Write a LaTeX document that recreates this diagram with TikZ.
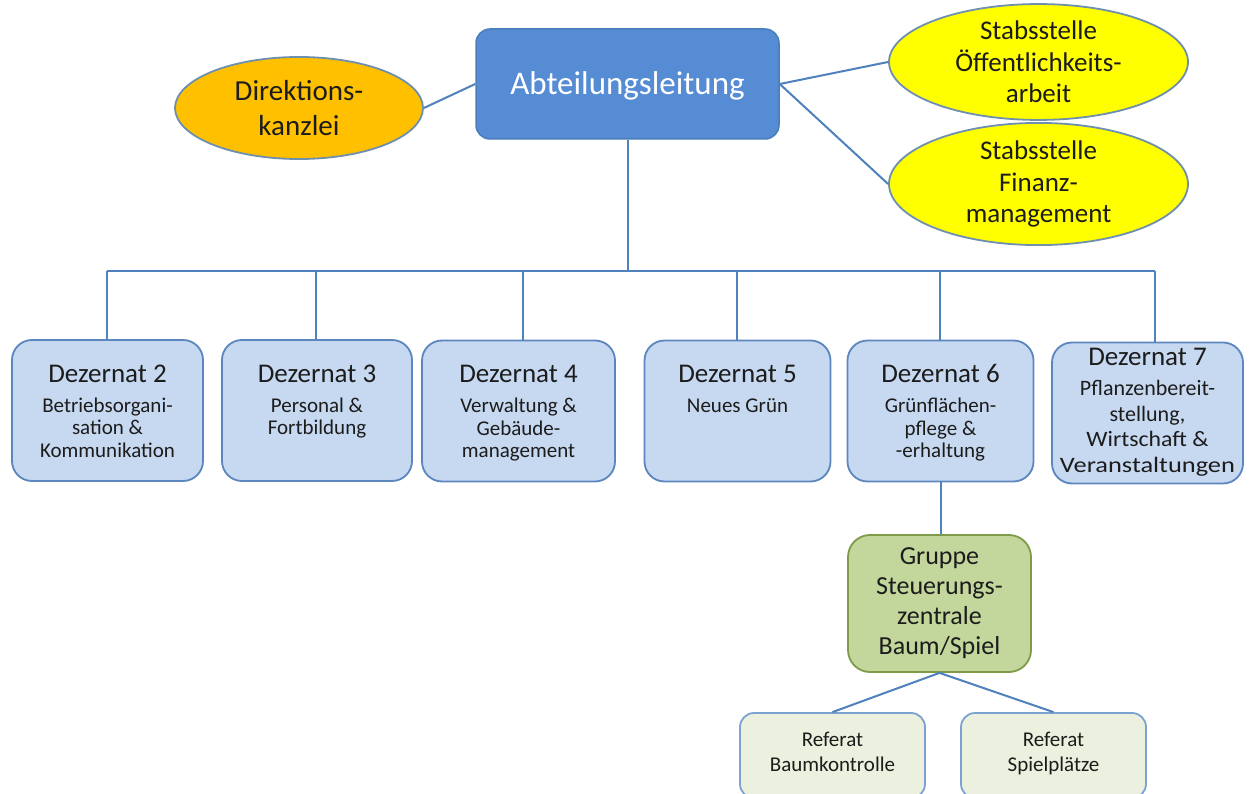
\documentclass[tikz,border=0pt]{standalone}
\usepackage{fontspec}
\setmainfont{Carlito}
\usetikzlibrary{shapes.geometric}
\definecolor{lineblue}{HTML}{4F81BD}
\definecolor{abtfill}{HTML}{558CD4}
\definecolor{abtdraw}{HTML}{4A7DBA}
\definecolor{dezfill}{HTML}{C6D9F1}
\definecolor{dezdraw}{HTML}{5B86BE}
\definecolor{orangefill}{HTML}{FFC000}
\definecolor{yellowfill}{HTML}{FFFF00}
\definecolor{ellipsedraw}{HTML}{6F8FAF}
\definecolor{grpfill}{HTML}{C3D69B}
\definecolor{grpdraw}{HTML}{7F9A48}
\definecolor{reffill}{HTML}{EBF1DE}
\definecolor{refdraw}{HTML}{7BA2D0}
\definecolor{txt}{HTML}{1C1C1C}
\newcommand{\dzcontent}[6]{%
  \parbox[c][141pt][t]{186pt}{\centering
    {\fontsize{27}{30}\selectfont\rule{0pt}{#3}#1\par}\vspace{#6}
    {\fontsize{#4}{#5}\selectfont #2\par}}}
\tikzset{
  conn/.style={draw=lineblue, line width=2pt},
  abtbox/.style={rectangle, rounded corners=14pt, fill=abtfill, draw=abtdraw, line width=1.5pt,
    minimum width=303pt, minimum height=110pt, inner sep=0pt, text=white, font=\fontsize{33}{38}\selectfont},
  ovalnode/.style={ellipse, draw=ellipsedraw, line width=1.8pt, inner sep=0pt, text=txt, align=center},
  dezbox/.style={rectangle, rounded corners=20pt, fill=dezfill, draw=dezdraw, line width=1.8pt,
    minimum height=141pt, inner sep=0pt, text=txt},
  grpbox/.style={rectangle, rounded corners=22pt, fill=grpfill, draw=grpdraw, line width=1.8pt,
    minimum width=183pt, minimum height=137pt, inner sep=0pt, text=txt, align=center,
    font=\fontsize{26}{30}\selectfont},
  refbox/.style={rectangle, rounded corners=14pt, fill=reffill, draw=refdraw, line width=1.8pt,
    minimum width=185pt, minimum height=85pt, inner sep=0pt, text=txt, align=center,
    font=\fontsize{21}{25}\selectfont}
}
\begin{document}
\begin{tikzpicture}[x=1pt, y=-1pt]
\clip (0,0) rectangle (1256,794);
\fill[white] (0,0) rectangle (1256,794);
% top level
\node[abtbox, text depth=2pt] (abt) at (627.5,84) {Abteilungsleitung};
\node[ovalnode, fill=orangefill, minimum width=248pt, minimum height=102pt,
  font=\fontsize{29}{35}\selectfont] (dk) at (299,108) {Direktions-\\kanzlei};
\node[ovalnode, fill=yellowfill, minimum width=299pt, minimum height=108pt,
  font=\fontsize{27}{31.5}\selectfont] (s1) at (1038.5,62) {Stabsstelle\\Öffentlichkeits-\\arbeit};
\node[ovalnode, fill=yellowfill, minimum width=299pt, minimum height=106pt,
  font=\fontsize{27}{31.5}\selectfont] (s2) at (1038.5,184) {Stabsstelle\\Finanz-\\management};
\draw[conn] (dk.east) -- (abt.west);
\draw[conn] (abt.east) -- (s1.west);
\draw[conn] (abt.east) -- (s2.west);
% Dezernate
\node[dezbox, minimum width=191pt] (d2) at (107.5,410.5)
  {\dzcontent{Dezernat 2}{Betriebsorgani-\\sation \&\\Kommunikation}{42pt}{21}{22.5}{7.5pt}};
\node[dezbox, minimum width=190pt] (d3) at (317,410.5)
  {\dzcontent{Dezernat 3}{Personal \&\\Fortbildung}{42pt}{21}{22.5}{7.5pt}};
\node[dezbox, minimum width=193pt] (d4) at (518.5,411)
  {\dzcontent{Dezernat 4}{Verwaltung \&\\Gebäude-\\management}{42pt}{21}{22.5}{7.5pt}};
\node[dezbox, minimum width=185pt] (d5) at (737.5,411)
  {\dzcontent{Dezernat 5}{Neues Grün}{42pt}{21}{22.5}{7.5pt}};
\node[dezbox, minimum width=185pt] (d6) at (940.5,411)
  {\dzcontent{Dezernat 6}{Grünflächen-\\pflege \&\\-erhaltung}{42pt}{21}{22.5}{7.5pt}};
\node[dezbox, minimum width=191pt] (d7) at (1147.5,413)
  {\dzcontent{Dezernat 7}{Pflanzenbereit-\\stellung,\\\scalebox{1.08}[1]{Wirtschaft \&}\\\scalebox{1.2}[1]{Veranstaltungen}}{23pt}{22}{25.5}{4.5pt}};
% bus
\coordinate (h2) at (107,271);
\coordinate (h3) at (316,271);
\coordinate (h4) at (523,271);
\coordinate (h5) at (737,271);
\coordinate (h6) at (940,271);
\coordinate (h7) at (1155,271);
\draw[conn] (abt.south) -- (abt.south |- h2);
\draw[conn] (h2) -- (h7);
\foreach \i in {2,...,7} {\draw[conn] (h\i) -- (h\i |- d\i.north);}
% Gruppe and Referate
\node[grpbox] (grp) at (939.5,603.5) {Gruppe\\Steuerungs-\\zentrale\\Baum/Spiel};
\node[refbox] (r1) at (832.5,755.5) {Referat\\Baumkontrolle\strut};
\node[refbox] (r2) at (1053.5,755.5) {Referat\\Spielplätze\strut};
\draw[conn] (d6.south) -- (d6.south |- grp.north);
\draw[conn] (grp.south) -- (r1.north);
\draw[conn] (grp.south) -- (r2.north);
\end{tikzpicture}
\end{document}
